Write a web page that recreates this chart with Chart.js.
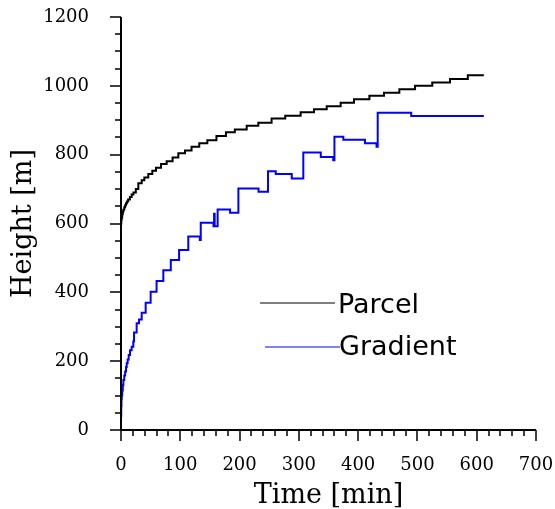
<!DOCTYPE html>
<html>
<head>
<meta charset="utf-8">
<script src="https://cdn.jsdelivr.net/npm/chart.js@4/dist/chart.umd.min.js"></script>
<style>
  html, body { margin: 0; padding: 0; background: #fff; }
  #wrap { width: 555px; height: 509px; position: relative; }
</style>
</head>
<body>
<div id="wrap"><canvas id="c" width="555" height="509"></canvas></div>
<script>
// ---- data ----
const seriesNames = ['Parcel', 'Gradient'];

const parcelTime = [0, 0, 0.5, 1, 2, 3, 4, 5.5, 7, 8.5, 10, 12, 15, 18, 21, 25,
  29.2, 34.9, 39.4, 46, 52.8, 59, 67.5, 77, 87, 96.7, 108, 119, 132, 145.6, 161,
  177, 192, 212, 231.6, 254, 277, 303, 325.5, 347, 370.5, 393, 419, 443.6, 469.5,
  496, 525, 555, 585, 612];
const parcelHeight = [0, 600, 610, 617, 627, 634, 640, 647, 653, 659, 664, 670, 677, 684, 690, 700,
  717, 726, 734, 744, 753, 762, 773, 781, 792, 804, 812, 823, 833, 842, 854,
  865, 873, 884, 893, 905, 913, 923, 932, 941, 951, 961, 971, 980, 990,
  1000, 1010, 1020, 1031, 1031];

const gradientTime = [0, 0, 0.4, 0.8, 1.2, 2, 3, 4, 5.5, 7, 8.5, 9.6, 11.2, 13, 15.2, 18,
  20.8, 22, 26.4, 30.4, 34.9, 41.6, 50, 60, 71.4, 84, 98, 113.5, 133, 134.5,
  156, 157, 158, 163, 184, 198, 232, 248, 261, 288, 307.5, 337, 358, 360,
  375, 411.5, 431, 433, 489.5, 612];
const gradientHeight = [0, 40, 70, 90, 100, 115, 130, 145, 158, 170, 183, 194, 205, 218, 232, 242,
  257, 283, 310, 321, 341, 370, 402, 433, 464, 494, 523, 562, 552, 602,
  592, 628, 592, 641, 631, 702, 692, 752, 744, 731, 806, 793, 784, 852,
  843, 833, 823, 922, 912, 912];

const xTicks = [0, 100, 200, 300, 400, 500, 600, 700];
const yTicks = [0, 200, 400, 600, 800, 1000, 1200];
const xMinorStep = 20;
const yMinorStep = 50;

const toPoints = (ts, hs) => ts.map((t, i) => ({ x: t, y: hs[i] }));

// ---- axes with major / minor ticks ----
const axesPlugin = {
  id: 'axesPlugin',
  beforeDatasetsDraw(chart) {
    const { ctx, chartArea: a, scales: { x, y } } = chart;
    ctx.save();
    ctx.strokeStyle = '#000';
    ctx.lineCap = 'butt';
    ctx.lineWidth = 2;
    ctx.beginPath();
    ctx.moveTo(a.left, a.top);
    ctx.lineTo(a.left, a.bottom + 1);
    ctx.moveTo(a.left - 1, a.bottom);
    ctx.lineTo(a.right, a.bottom);
    ctx.stroke();
    ctx.lineWidth = 1.5;
    ctx.beginPath();
    const yMax = yTicks[yTicks.length - 1];
    for (let v = yTicks[0]; v <= yMax; v += yMinorStep) {
      const len = yTicks.includes(v) ? 11 : 6;
      const py = Math.round(y.getPixelForValue(v));
      ctx.moveTo(a.left - len, py);
      ctx.lineTo(a.left, py);
    }
    const xMax = xTicks[xTicks.length - 1];
    for (let v = xTicks[0]; v <= xMax; v += xMinorStep) {
      const len = xTicks.includes(v) ? 11 : 6;
      const px = Math.round(x.getPixelForValue(v));
      ctx.moveTo(px, a.bottom);
      ctx.lineTo(px, a.bottom + len);
    }
    ctx.stroke();
    ctx.restore();
  }
};

// ---- legend drawn inside the plot ----
const legendPlugin = {
  id: 'legendPlugin',
  afterDatasetsDraw(chart) {
    const { ctx } = chart;
    const entries = [
      { x1: 260, x2: 335, y: 303, tx: 338, ty: 313 },
      { x1: 265, x2: 340, y: 347, tx: 339, ty: 355 }
    ];
    ctx.save();
    ctx.font = '27px "DejaVu Sans"';
    ctx.textAlign = 'left';
    ctx.textBaseline = 'alphabetic';
    chart.data.datasets.forEach((ds, i) => {
      const e = entries[i];
      ctx.strokeStyle = ds.borderColor;
      ctx.lineWidth = 1;
      ctx.beginPath();
      ctx.moveTo(e.x1, e.y);
      ctx.lineTo(e.x2, e.y);
      ctx.stroke();
      ctx.fillStyle = '#000';
      ctx.fillText(ds.label, e.tx, e.ty);
    });
    ctx.restore();
  }
};

new Chart(document.getElementById('c'), {
  type: 'line',
  data: {
    datasets: [
      {
        label: seriesNames[0],
        data: toPoints(parcelTime, parcelHeight),
        borderColor: '#000000',
        borderWidth: 2,
        stepped: 'before',
        pointRadius: 0,
        fill: false,
        clip: 4
      },
      {
        label: seriesNames[1],
        data: toPoints(gradientTime, gradientHeight),
        borderColor: '#0000ff',
        borderWidth: 2,
        stepped: 'before',
        pointRadius: 0,
        fill: false,
        clip: 4
      }
    ]
  },
  options: {
    responsive: false,
    animation: false,
    devicePixelRatio: 1,
    layout: { padding: 0 },
    plugins: { legend: { display: false }, tooltip: { enabled: false } },
    scales: {
      x: {
        type: 'linear',
        min: xTicks[0],
        max: xTicks[xTicks.length - 1],
        afterBuildTicks: (s) => { s.ticks = xTicks.map(v => ({ value: v })); },
        afterFit: (s) => {
          s.height = 79;
          s.paddingLeft = 0; s.paddingRight = 19; s.paddingTop = 0; s.paddingBottom = 0;
        },
        grid: { display: false },
        border: { display: false },
        ticks: {
          padding: 17,
          color: '#000',
          font: { family: '"DejaVu Serif"', size: 18 },
          maxRotation: 0,
          callback: (v) => String(v)
        },
        title: {
          display: true,
          text: 'Time [min]',
          color: '#000',
          font: { family: '"DejaVu Serif"', size: 27, lineHeight: 1 },
          padding: { top: 0, bottom: 0 }
        }
      },
      y: {
        type: 'linear',
        min: yTicks[0],
        max: yTicks[yTicks.length - 1],
        afterBuildTicks: (s) => { s.ticks = yTicks.map(v => ({ value: v })); },
        afterFit: (s) => {
          s.width = 121;
          s.paddingLeft = 0; s.paddingRight = 0; s.paddingTop = 17; s.paddingBottom = 0;
        },
        grid: { display: false },
        border: { display: false },
        ticks: {
          padding: 24,
          color: '#000',
          font: { family: '"DejaVu Serif"', size: 18 },
          callback: (v) => String(v)
        },
        title: {
          display: true,
          text: 'Height [m]',
          color: '#000',
          font: { family: '"DejaVu Serif"', size: 27, lineHeight: 1 },
          padding: { top: 10, bottom: 0 }
        }
      }
    }
  },
  plugins: [axesPlugin, legendPlugin]
});
</script>
</body>
</html>
